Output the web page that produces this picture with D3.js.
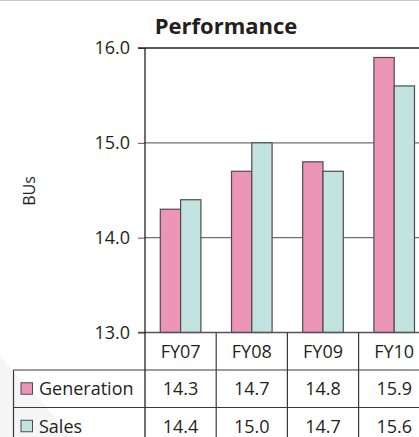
<!DOCTYPE html>
<html>
<head>
<meta charset="utf-8">
<script src="https://cdn.jsdelivr.net/npm/d3@7"></script>
<style>
  body { margin: 0; background: #fff; }
  text { font-family: "Open Sans", sans-serif; fill: #231f20; }
</style>
</head>
<body>
<div id="chart-area"></div>
<script>
var categories = ["FY07", "FY08", "FY09", "FY10"];
var seriesNames = ["Generation", "Sales"];
var generation = [14.3, 14.7, 14.8, 15.9];
var sales = [14.4, 15.0, 14.7, 15.6];
var yTicks = [13, 14, 15, 16];
var colors = ["#ec95b5", "#c2e3df"];

var width = 419;
var height = 437;

var svg = d3.select("#chart-area")
  .append("svg")
  .attr("width", width)
  .attr("height", height);

// faint background shape and top rule
svg.append("polygon")
  .attr("points", "0,356 0,437 72,437")
  .attr("fill", "#f5f5f5");
svg.append("line")
  .attr("x1", 0).attr("x2", width)
  .attr("y1", 0.5).attr("y2", 0.5)
  .attr("stroke", "#c8c8c8");

var left = 145;
var band = 71.2;

var x = d3.scaleBand()
  .domain(categories)
  .range([left, left + band * categories.length])
  .padding(0);

var x1 = d3.scaleBand()
  .domain(seriesNames)
  .range([0, 40.6]);

var y = d3.scaleLinear()
  .domain([13, 16])
  .range([332.5, 48]);

var data = categories.map((c, i) => ({ cat: c, values: [generation[i], sales[i]] }));

// gridlines
svg.append("g")
  .selectAll("line")
  .data(yTicks.slice(1, 3))
  .enter()
  .append("line")
  .attr("x1", left).attr("x2", width)
  .attr("y1", (d) => y(d)).attr("y2", (d) => y(d))
  .attr("stroke", "#707070")
  .attr("stroke-width", 1.3);

// y axis
var yAxis = d3.axisLeft(y)
  .tickValues(yTicks)
  .tickSize(7)
  .tickPadding(8)
  .tickFormat(d3.format(".1f"));

var ya = svg.append("g")
  .attr("transform", "translate(" + left + ",0)")
  .call(yAxis);
ya.select(".domain").remove();
ya.selectAll("line").attr("stroke", "#555");
ya.selectAll("text")
  .attr("font-size", "18px")
  .attr("font-family", "Open Sans, sans-serif")
  .attr("fill", "#231f20");

// bars
var groups = svg.append("g")
  .selectAll("g")
  .data(data)
  .enter()
  .append("g")
  .attr("transform", (d) => "translate(" + (x(d.cat) + x.bandwidth() / 2 - 20.3) + ",0)");

groups.selectAll("rect")
  .data((d) => d.values.map((v, j) => ({ name: seriesNames[j], value: v, color: colors[j] })))
  .enter()
  .append("rect")
  .attr("x", (d) => x1(d.name))
  .attr("y", (d) => y(d.value))
  .attr("width", x1.bandwidth())
  .attr("height", (d) => y(13) - y(d.value))
  .attr("fill", (d) => d.color)
  .attr("stroke", "#4d4d4d")
  .attr("stroke-width", 1.2);

// frame: top line, left axis, baseline
svg.append("line")
  .attr("x1", 138).attr("x2", width)
  .attr("y1", y(16)).attr("y2", y(16))
  .attr("stroke", "#231f20").attr("stroke-width", 1.3);
svg.append("line")
  .attr("x1", 138).attr("x2", width)
  .attr("y1", y(13)).attr("y2", y(13))
  .attr("stroke", "#555").attr("stroke-width", 1.3);
svg.append("line")
  .attr("x1", left).attr("x2", left)
  .attr("y1", y(16)).attr("y2", height)
  .attr("stroke", "#231f20").attr("stroke-width", 1.3);

// title and y label
svg.append("text")
  .attr("x", 226)
  .attr("y", 34)
  .attr("text-anchor", "middle")
  .attr("font-size", "22px")
  .attr("font-weight", "bold")
  .text("Performance");

svg.append("text")
  .attr("transform", "translate(35,191) rotate(-90)")
  .attr("text-anchor", "middle")
  .attr("font-size", "16px")
  .text("BUs");

// data table
var rowTop = [332.5, 370, 407.5];
var rowH = 37.5;

var table = svg.append("g");

table.selectAll("line.hrow")
  .data([rowTop[1], rowTop[2]])
  .enter()
  .append("line")
  .attr("class", "hrow")
  .attr("x1", 13.5).attr("x2", width)
  .attr("y1", (d) => d).attr("y2", (d) => d)
  .attr("stroke", "#3a3a3a").attr("stroke-width", 1.2);

table.append("line")
  .attr("x1", 13.5).attr("x2", 13.5)
  .attr("y1", rowTop[1]).attr("y2", height)
  .attr("stroke", "#3a3a3a").attr("stroke-width", 1.2);

table.selectAll("line.vcol")
  .data(categories.slice(1))
  .enter()
  .append("line")
  .attr("class", "vcol")
  .attr("x1", (d) => x(d)).attr("x2", (d) => x(d))
  .attr("y1", rowTop[0]).attr("y2", height)
  .attr("stroke", "#3a3a3a").attr("stroke-width", 1.2);

table.selectAll("text.cat")
  .data(categories)
  .enter()
  .append("text")
  .attr("class", "cat")
  .attr("x", (d) => x(d) + x.bandwidth() / 2)
  .attr("y", rowTop[0] + rowH / 2)
  .attr("dy", "0.35em")
  .attr("text-anchor", "middle")
  .attr("font-size", "18px")
  .text((d) => d);

var seriesRows = [generation, sales];

seriesRows.forEach((vals, j) => {
  var cy = rowTop[j + 1] + rowH / 2;
  table.append("rect")
    .attr("x", 21)
    .attr("y", cy - 6)
    .attr("width", 11.5)
    .attr("height", 11.5)
    .attr("fill", colors[j])
    .attr("stroke", "#4d4d4d")
    .attr("stroke-width", 1);
  table.append("text")
    .attr("x", 39)
    .attr("y", cy)
    .attr("dy", "0.35em")
    .attr("font-size", "18px")
    .text(seriesNames[j]);
  table.selectAll("text.v" + j)
    .data(vals)
    .enter()
    .append("text")
    .attr("class", "v" + j)
    .attr("x", (d, i) => x(categories[i]) + x.bandwidth() / 2)
    .attr("y", cy)
    .attr("dy", "0.35em")
    .attr("text-anchor", "middle")
    .attr("font-size", "18px")
    .text((d) => d.toFixed(1));
});
</script>
</body>
</html>
